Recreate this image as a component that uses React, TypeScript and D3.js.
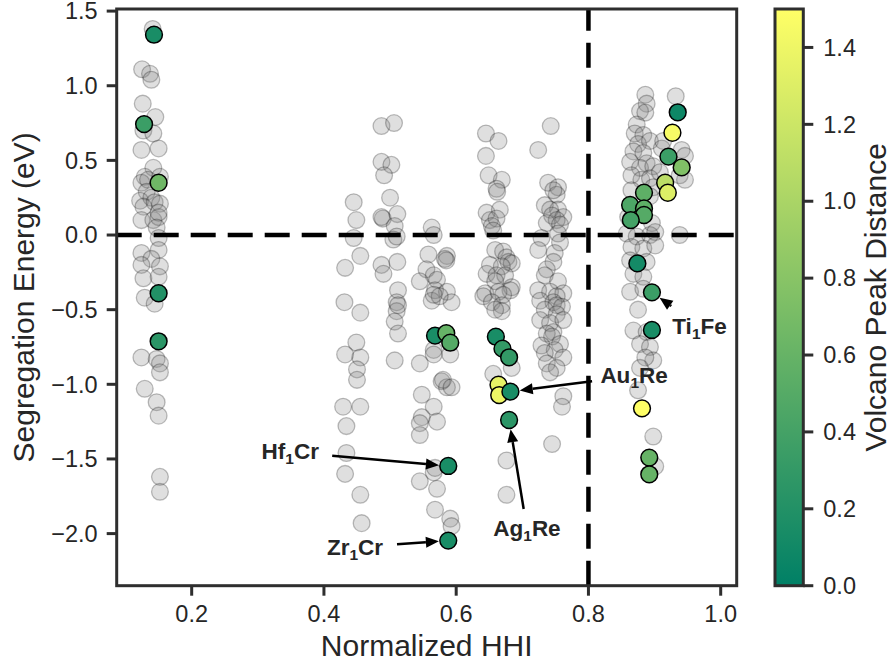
import React from "react";
import * as d3 from "d3";

// gray background points: [normalized HHI, segregation energy]
const grayLowHHI: [number, number][] = [
  [0.141, 1.38], [0.125, 1.11], [0.137, 1.08], [0.139, 1.04], [0.126, 0.88], [0.145, 0.79],
  [0.127, 0.7], [0.142, 0.68], [0.124, 0.57], [0.15, 0.58], [0.142, 0.45], [0.129, 0.39],
  [0.124, 0.35], [0.152, 0.39], [0.134, 0.37], [0.132, 0.29], [0.122, 0.23], [0.139, 0.25],
  [0.127, 0.19], [0.144, 0.22], [0.152, 0.21], [0.124, 0.1], [0.142, 0.1], [0.15, 0.12],
  [0.15, 0.15], [0.147, 0.05], [0.15, -0.02], [0.15, -0.1], [0.124, -0.12], [0.139, -0.16],
  [0.152, -0.21], [0.124, -0.2], [0.127, -0.29], [0.15, -0.28], [0.129, -0.42], [0.144, -0.46],
  [0.124, -0.82], [0.147, -0.83], [0.152, -0.86], [0.152, -0.92], [0.129, -1.03], [0.147, -1.12],
  [0.15, -1.21], [0.152, -1.62], [0.152, -1.72],
];

const grayMidA: [number, number][] = [
  [0.445, 0.22], [0.449, 0.1], [0.445, -0.02], [0.455, -0.14], [0.432, -0.22], [0.431, -0.45],
  [0.455, -0.52], [0.487, 0.73], [0.506, 0.75], [0.487, 0.49], [0.502, 0.47], [0.491, 0.4],
  [0.5, 0.25], [0.489, 0.11], [0.511, 0.14], [0.507, 0.06], [0.505, -0.03], [0.487, -0.2],
  [0.511, -0.18], [0.49, -0.26], [0.512, -0.37], [0.51, -0.45], [0.51, -0.51], [0.487, 0.12],
  [0.51, -0.01], [0.512, -0.47], [0.507, -0.58], [0.512, -0.66], [0.507, -0.84], [0.449, -0.72],
  [0.432, -0.8], [0.455, -0.82], [0.45, -0.9], [0.45, -0.97], [0.429, -1.15], [0.455, -1.15],
  [0.434, -1.28], [0.434, -1.46], [0.432, -1.6], [0.455, -1.74], [0.457, -1.93],
];

const grayMidB: [number, number][] = [
  [0.563, 0.05], [0.566, 0.0], [0.558, -0.13], [0.586, -0.14], [0.585, -0.17], [0.583, -0.16],
  [0.555, -0.23], [0.566, -0.27], [0.571, -0.3], [0.545, -0.31], [0.568, -0.37], [0.586, -0.38],
  [0.563, -0.44], [0.593, -0.45], [0.575, -0.41], [0.566, -0.4], [0.566, -0.77], [0.566, -0.8],
  [0.545, -0.86], [0.591, -0.8], [0.578, -0.98], [0.586, -1.02], [0.548, -1.07], [0.566, -1.15],
  [0.548, -1.22], [0.571, -1.25], [0.545, -1.26], [0.545, -1.34], [0.566, -1.59], [0.568, -1.56],
  [0.545, -1.65], [0.571, -1.7], [0.568, -1.84], [0.591, -1.9], [0.593, -1.95], [0.58, -0.97],
  [0.593, -1.02],
];

const grayMidC: [number, number][] = [
  [0.645, 0.68], [0.664, 0.63], [0.645, 0.53], [0.649, 0.4], [0.669, 0.37], [0.661, 0.31],
  [0.662, 0.29], [0.646, 0.15], [0.666, 0.17], [0.651, 0.1], [0.661, 0.11], [0.654, 0.06],
  [0.656, 0.03], [0.659, -0.1], [0.671, -0.11], [0.676, -0.15], [0.679, -0.18], [0.684, -0.19],
  [0.651, -0.2], [0.669, -0.21], [0.646, -0.26], [0.661, -0.27], [0.674, -0.27], [0.659, -0.31],
  [0.684, -0.35], [0.682, -0.37], [0.644, -0.39], [0.641, -0.41], [0.664, -0.38], [0.671, -0.4],
  [0.654, -0.45], [0.669, -0.47], [0.669, -0.51], [0.659, -0.5], [0.684, -0.89], [0.656, -0.93],
  [0.676, -1.51], [0.676, -1.74],
];

const grayMidD: [number, number][] = [
  [0.743, 0.73], [0.724, 0.57], [0.739, 0.35], [0.754, 0.32], [0.752, 0.27], [0.747, 0.3],
  [0.734, 0.2], [0.754, 0.17], [0.742, 0.17], [0.745, 0.13], [0.762, 0.12], [0.752, 0.1],
  [0.737, 0.08], [0.757, 0.07], [0.754, 0.01], [0.729, -0.02], [0.757, -0.05], [0.724, -0.1],
  [0.749, -0.12], [0.747, -0.18], [0.737, -0.23], [0.734, -0.27], [0.754, -0.31], [0.724, -0.37],
  [0.742, -0.38], [0.762, -0.39], [0.752, -0.41], [0.727, -0.44], [0.747, -0.45], [0.752, -0.47],
  [0.76, -0.48], [0.734, -0.5], [0.752, -0.53], [0.727, -0.57], [0.742, -0.59], [0.762, -0.57],
  [0.747, -0.65], [0.737, -0.66], [0.745, -0.68], [0.729, -0.74], [0.757, -0.73], [0.749, -0.77],
  [0.734, -0.79], [0.762, -0.82], [0.737, -0.86], [0.752, -0.89], [0.742, -0.92], [0.762, -1.08],
  [0.76, -1.15], [0.745, -1.4],
];

const grayHigh: [number, number][] = [
  [0.886, 0.94], [0.888, 0.88], [0.932, 0.93], [0.878, 0.83], [0.886, 0.82], [0.873, 0.74],
  [0.87, 0.68], [0.883, 0.67], [0.875, 0.61], [0.893, 0.63], [0.868, 0.56], [0.883, 0.55],
  [0.863, 0.49], [0.888, 0.48], [0.878, 0.45], [0.898, 0.46], [0.865, 0.4], [0.88, 0.37],
  [0.893, 0.38], [0.898, 0.32], [0.911, 0.58], [0.913, 0.63], [0.941, 0.57], [0.946, 0.53],
  [0.938, 0.4], [0.946, 0.37], [0.908, 0.42], [0.865, 0.3], [0.893, 0.26], [0.86, 0.12],
  [0.896, 0.08], [0.858, 0.01], [0.873, -0.01], [0.893, 0.0], [0.901, 0.02], [0.938, 0.0],
  [0.865, -0.08], [0.883, -0.09], [0.901, -0.07], [0.863, -0.17], [0.888, -0.18], [0.868, -0.26],
  [0.883, -0.28], [0.863, -0.38], [0.883, -0.36], [0.875, -0.5], [0.868, -0.64], [0.888, -0.65],
  [0.878, -0.73], [0.893, -0.75], [0.898, -0.84], [0.886, -0.82], [0.878, -0.89], [0.875, -1.04],
  [0.898, -1.35], [0.901, -1.55],
];

// highlighted candidates
const highlightHHI = [
  0.143, 0.128, 0.15, 0.15, 0.15,
  0.568, 0.585, 0.591, 0.588, 0.588,
  0.66, 0.67, 0.68, 0.664, 0.665, 0.682, 0.68,
  0.935, 0.927, 0.921, 0.941, 0.916, 0.92, 0.884, 0.863, 0.884, 0.884, 0.864,
  0.874, 0.896, 0.896, 0.881, 0.892, 0.892,
];
const highlightEnergy = [
  1.342, 0.743, 0.35, -0.39, -0.712,
  -0.674, -0.658, -0.721, -1.547, -2.047,
  -0.681, -0.761, -0.819, -1.003, -1.072, -1.049, -1.239,
  0.822, 0.685, 0.525, 0.453, 0.35, 0.283, 0.283, 0.201, 0.178, 0.134, 0.1,
  -0.19, -0.384, -0.636, -1.161, -1.491, -1.603,
];
const highlightVPD = [
  0.15, 0.35, 0.65, 0.2, 0.25,
  0.15, 0.6, 0.5, 0.15, 0.15,
  0.15, 0.3, 0.3, 1.35, 1.4, 0.15, 0.25,
  0.08, 1.45, 0.35, 0.75, 1.1, 1.3, 0.55, 0.45, 0.55, 0.5, 0.4,
  0.12, 0.35, 0.15, 1.5, 0.6, 0.6,
];

// annotations: highlight index, label parts, text centre in data units
const labelIndex = [8, 9, 16, 15, 29];
const labelParts = [
  ["Hf", "1", "Cr"],
  ["Zr", "1", "Cr"],
  ["Ag", "1", "Re"],
  ["Au", "1", "Re"],
  ["Ti", "1", "Fe"],
];
const labelAt: [number, number][] = [
  [0.349, -1.453],
  [0.447, -2.09],
  [0.707, -1.969],
  [0.869, -0.944],
  [0.968, -0.61],
];

const xTicks = [0.2, 0.4, 0.6, 0.8, 1.0];
const yTicks = [1.5, 1.0, 0.5, 0.0, -0.5, -1.0, -1.5, -2.0];
const cbarTicks = [0.0, 0.2, 0.4, 0.6, 0.8, 1.0, 1.2, 1.4];

const W = 891;
const H = 664;
const plot = { left: 116.7, top: 9, right: 736.7, bottom: 585.7 };
const cbar = { left: 775, right: 803.3 };
const FONT = "'Liberation Sans', Arial, Helvetica, sans-serif";
const INK = "#262626";
const SPINE = "#2e2e2e";

export default function App() {
  const x = d3.scaleLinear().domain([0.0866, 1.0242]).range([plot.left, plot.right]);
  const y = d3.scaleLinear().domain([-2.349, 1.514]).range([plot.bottom, plot.top]);
  const cScale = d3.scaleLinear().domain([0, 1.5]).range([plot.bottom, plot.top]);
  const summer = d3.interpolateRgb("#008066", "#ffff66");
  const color = (v: number) => summer(Math.max(0, Math.min(1, v / 1.5)));
  const fmt = d3.format(".1f");

  const gray = [...grayLowHHI, ...grayMidA, ...grayMidB, ...grayMidC, ...grayMidD, ...grayHigh];
  const highlights = highlightHHI.map((h, i) => ({ h, e: highlightEnergy[i], v: highlightVPD[i] }));

  const R = 8.4;

  // arrows from text box edge to the marker edge
  const arrows = labelIndex.map((idx, i) => {
    const tx = x(labelAt[i][0]);
    const ty = y(labelAt[i][1]);
    const px = x(highlightHHI[idx]);
    const py = y(highlightEnergy[idx]);
    const dx = px - tx;
    const dy = py - ty;
    const len = Math.hypot(dx, dy);
    const halfW = 42;
    const halfH = 20;
    const t = Math.min(Math.abs(dx) > 0 ? halfW / Math.abs(dx) : 1e9, Math.abs(dy) > 0 ? halfH / Math.abs(dy) : 1e9);
    const sx = tx + dx * t;
    const sy = ty + dy * t;
    const ex = px - (dx / len) * (R + 1);
    const ey = py - (dy / len) * (R + 1);
    const ux = dx / len;
    const uy = dy / len;
    const headL = 13;
    const headW = 5.5;
    const bx = ex - ux * headL;
    const by = ey - uy * headL;
    const head = `M${ex},${ey}L${bx - uy * headW},${by + ux * headW}L${bx + uy * headW},${by - ux * headW}Z`;
    return { sx, sy, bx, by, head };
  });

  return (
    <svg
      width={W}
      height={H}
      style={{ position: "absolute", left: 0, top: 0, background: "#fff" }}
      fontFamily={FONT}
    >
      <defs>
        <linearGradient id="summer" x1="0" y1="1" x2="0" y2="0">
          {d3.range(0, 1.0001, 0.1).map((t) => (
            <stop key={t} offset={t} stopColor={summer(t)} />
          ))}
        </linearGradient>
      </defs>
      <rect width={W} height={H} fill="#fff" />

      {/* gray points */}
      <g>
        {gray.map(([h, e], i) => (
          <circle
            key={i}
            cx={x(h)}
            cy={y(e)}
            r={R}
            fill="rgba(128,128,128,0.25)"
            stroke="rgba(0,0,0,0.25)"
            strokeWidth={1.3}
          />
        ))}
      </g>

      {/* reference lines */}
      <line
        x1={plot.left}
        x2={plot.right}
        y1={y(0)}
        y2={y(0)}
        stroke="#000"
        strokeWidth={4.5}
        strokeDasharray="25 12"
      />
      <line
        x1={x(0.8)}
        x2={x(0.8)}
        y1={plot.bottom}
        y2={plot.top}
        stroke="#000"
        strokeWidth={4.5}
        strokeDasharray="25 12"
      />

      {/* highlighted points */}
      <g>
        {highlights.map((d, i) => (
          <circle key={i} cx={x(d.h)} cy={y(d.e)} r={R} fill={color(d.v)} stroke="#000" strokeWidth={1.5} />
        ))}
      </g>

      {/* annotations */}
      <g>
        {arrows.map((a, i) => (
          <g key={i}>
            <line x1={a.sx} y1={a.sy} x2={a.bx} y2={a.by} stroke="#000" strokeWidth={2.5} />
            <path d={a.head} fill="#000" />
          </g>
        ))}
        {labelParts.map((p, i) => (
          <text
            key={i}
            x={x(labelAt[i][0])}
            y={y(labelAt[i][1]) + 7.5}
            textAnchor="middle"
            fontWeight="bold"
            fontSize={22.5}
            fill={INK}
          >
            <tspan>{p[0]}</tspan>
            <tspan dy={5} fontSize={15.5}>{p[1]}</tspan>
            <tspan dy={-5}>{p[2]}</tspan>
          </text>
        ))}
      </g>

      {/* axes frame */}
      <rect
        x={plot.left}
        y={plot.top}
        width={plot.right - plot.left}
        height={plot.bottom - plot.top}
        fill="none"
        stroke={SPINE}
        strokeWidth={3}
      />

      {/* x ticks */}
      <g>
        {xTicks.map((t) => (
          <g key={t}>
            <line x1={x(t)} x2={x(t)} y1={plot.bottom} y2={plot.bottom + 10} stroke={SPINE} strokeWidth={3} />
            <text x={x(t)} y={plot.bottom + 36} textAnchor="middle" fontSize={23.5} fill={INK}>
              {fmt(t)}
            </text>
          </g>
        ))}
      </g>

      {/* y ticks */}
      <g>
        {yTicks.map((t) => (
          <g key={t}>
            <line x1={plot.left - 10} x2={plot.left} y1={y(t)} y2={y(t)} stroke={SPINE} strokeWidth={3} />
            <text x={plot.left - 19} y={y(t)} dy="0.35em" textAnchor="end" fontSize={23.5} fill={INK}>
              {fmt(t)}
            </text>
          </g>
        ))}
      </g>

      <text x={(plot.left + plot.right) / 2} y={656} textAnchor="middle" fontSize={30} fill={INK}>
        Normalized HHI
      </text>
      <text
        transform={`translate(34,${(plot.top + plot.bottom) / 2}) rotate(-90)`}
        textAnchor="middle"
        fontSize={30}
        fill={INK}
      >
        Segregation Energy (eV)
      </text>

      {/* colorbar */}
      <rect
        x={cbar.left}
        y={plot.top}
        width={cbar.right - cbar.left}
        height={plot.bottom - plot.top}
        fill="url(#summer)"
        stroke={SPINE}
        strokeWidth={3}
      />
      <g>
        {cbarTicks.map((t) => (
          <g key={t}>
            <line x1={cbar.right} x2={cbar.right + 10} y1={cScale(t)} y2={cScale(t)} stroke={SPINE} strokeWidth={3} />
            <text x={cbar.right + 20} y={cScale(t)} dy="0.35em" fontSize={23.5} fill={INK}>
              {fmt(t)}
            </text>
          </g>
        ))}
      </g>
      <text
        transform={`translate(886,${(plot.top + plot.bottom) / 2}) rotate(-90)`}
        textAnchor="middle"
        fontSize={30}
        fill={INK}
      >
        Volcano Peak Distance
      </text>
    </svg>
  );
}
